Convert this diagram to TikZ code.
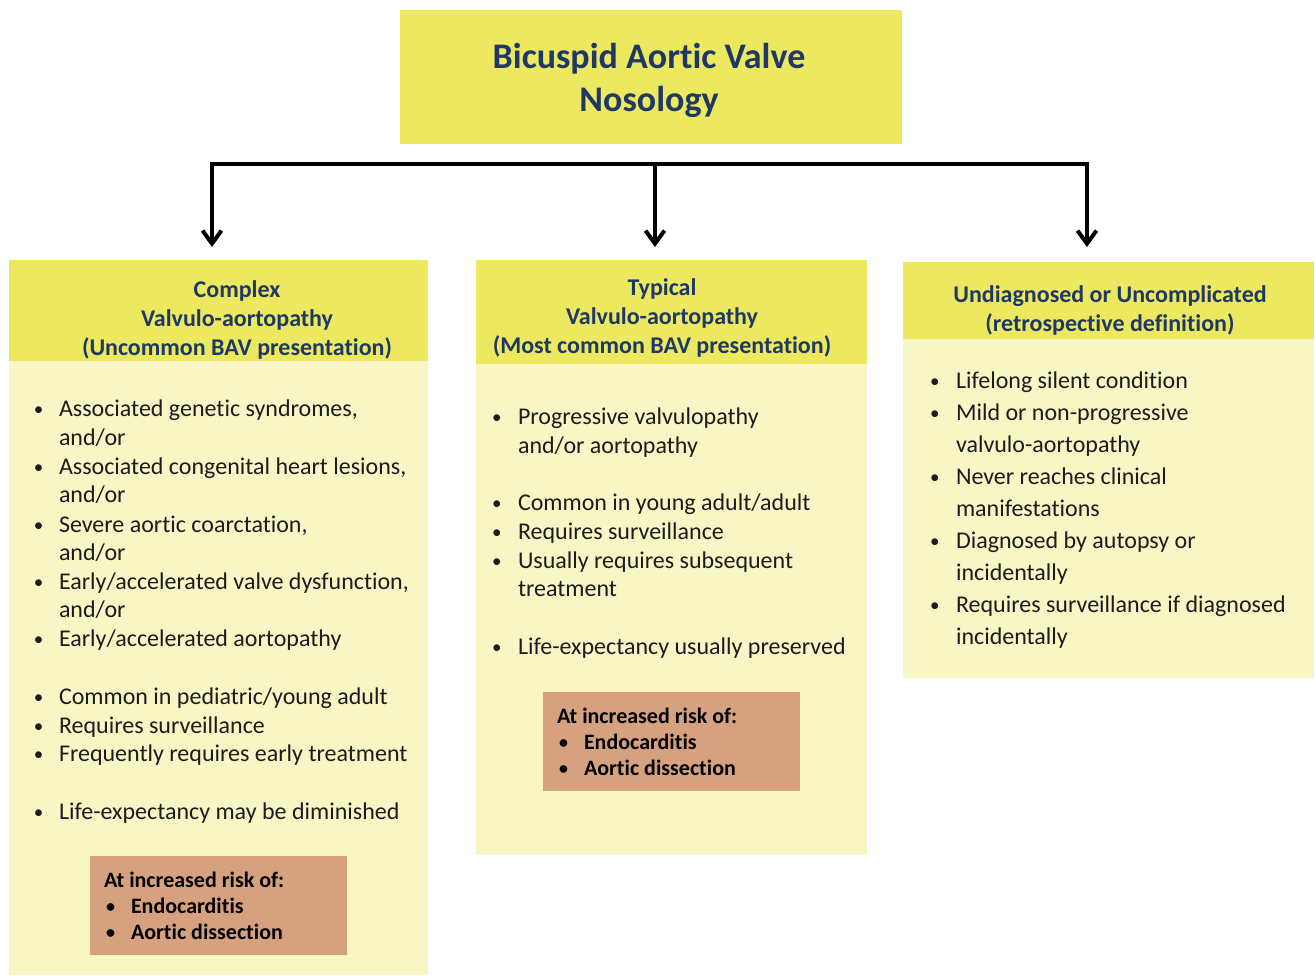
\documentclass[tikz,border=0pt]{standalone}
\usepackage{fontspec}
\setmainfont[Ligatures=NoCommon]{Carlito}
\usetikzlibrary{arrows.meta}
\definecolor{hdryellow}{HTML}{ECE961}
\definecolor{bodyyellow}{HTML}{F8F6C5}
\definecolor{riskorange}{HTML}{D6A17E}
\definecolor{navy}{HTML}{1F3864}
\definecolor{ink}{HTML}{1C1C1C}

\begin{document}
\begin{tikzpicture}[x=1pt,y=-1pt]
        \tikzstyle{every node}=[inner sep=0pt, outer sep=0pt]
        \tikzstyle{panel}=[anchor=north west, fill=hdryellow]
        \tikzstyle{body}=[anchor=north west, fill=bodyyellow]
        \tikzstyle{risk}=[anchor=north west, fill=riskorange, minimum width=257, minimum height=99]
        \tikzstyle{head}=[text=navy, align=center, font=\fontsize{24}{29}\selectfont\bfseries]
        \tikzstyle{item}=[text=ink, anchor=base west, font=\fontsize{24}{29}\selectfont]
        \tikzstyle{dot}=[text=ink, anchor=base west, font=\fontsize{19}{29}\selectfont]
        \tikzstyle{riskitem}=[text=black, anchor=base west, font=\fontsize{22}{26}\selectfont\bfseries]
        \tikzstyle{arrs}=[line width=4pt, {Straight Barb[length=13pt,width=19pt]}-{Straight Barb[length=13pt,width=19pt]}]
        \tikzstyle{arr}=[line width=4pt, -{Straight Barb[length=13pt,width=19pt]}]
        \useasboundingbox (0,0) rectangle (1315,975);
        % title
        \node[panel, minimum width=502, minimum height=134] (title) at (400,10) {};
        \node[text=navy, align=center, font=\fontsize{36}{43}\selectfont\bfseries] (titletext) at (649,80) {Bicuspid Aortic Valve\\Nosology};
        % connectors
        \coordinate (jL) at (212,164);
        \coordinate (jM) at (655,164);
        \coordinate (jR) at (1087,164);
        \coordinate (tL) at (212,247);
        \coordinate (tM) at (655,247);
        \coordinate (tR) at (1087,247);
        \draw[arrs] (tL) -- (jL) -- (jR) -- (tR);
        \draw[arr] (jM) -- (tM);
        % panels
        \node[panel, minimum width=419, minimum height=101] (hcomplex) at (9,260) {};
        \node[body, minimum width=419, minimum height=614] (bcomplex) at (9,361) {};
        \node[panel, minimum width=391, minimum height=104] (htypical) at (476,260) {};
        \node[body, minimum width=391, minimum height=491] (btypical) at (476,364) {};
        \node[panel, minimum width=411, minimum height=77] (hundiag) at (903,262) {};
        \node[body, minimum width=411, minimum height=339] (bundiag) at (903,339) {};
        \node[head] (hcomplextext) at (237,320) {Complex\\Valvulo-aortopathy\\(Uncommon BAV presentation)};
        \node[head] (htypicaltext) at (662,318) {Typical\\Valvulo-aortopathy\\(Most common BAV presentation)};
        \node[head] (hundiagtext) at (1110,310) {Undiagnosed or Uncomplicated\\(retrospective definition)};
        % complex
        \foreach \y/\t in {408/{Associated genetic syndromes,}, 437/{and/or},
                466/{Associated congenital heart lesions,}, 494/{and/or},
                524/{Severe aortic coarctation,}, 552/{and/or},
                581/{Early/accelerated valve dysfunction,}, 609/{and/or},
                638/{Early/accelerated aortopathy}, 696/{Common in pediatric/young adult},
                725/{Requires surveillance}, 753/{Frequently requires early treatment},
                811/{Life-expectancy may be diminished}}
            \node[item] (c\y) at (59,\y+8) {\t};
        \foreach \y in {408,466,524,581,638,696,725,753,811}
            \node[dot] (cb\y) at (34,\y+7) {•};
        % typical
        \foreach \y/\t in {416/{Progressive valvulopathy}, 445/{and/or aortopathy},
                502/{Common in young adult/adult}, 531/{Requires surveillance},
                560/{Usually requires subsequent}, 588/{treatment},
                646/{Life-expectancy usually preserved}}
            \node[item] (t\y) at (518,\y+8) {\t};
        \foreach \y in {416,502,531,560,646}
            \node[dot] (tb\y) at (492,\y+7) {•};
        % undiagnosed
        \foreach \y/\t in {380/{Lifelong silent condition}, 412/{Mild or non-progressive},
                444/{valvulo-aortopathy}, 476/{Never reaches clinical},
                508/{manifestations}, 540/{Diagnosed by autopsy or},
                572/{incidentally}, 604/{Requires surveillance if diagnosed},
                636/{incidentally}}
            \node[item] (u\y) at (956,\y+8) {\t};
        \foreach \y in {380,412,476,540,604}
            \node[dot] (ub\y) at (930,\y+7) {•};
        % risk boxes
        \foreach \n/\x/\y in {c/90/856, t/543/692} {
            \node[risk] (risk\n) at (\x,\y) {};
            \node[riskitem] (risk\n0) at (\x+14,\y+31) {At increased risk of:};
            \node[riskitem] (risk\n1) at (\x+41,\y+57) {Endocarditis};
            \node[riskitem] (risk\n2) at (\x+41,\y+83) {Aortic dissection};
            \node[riskitem, font=\fontsize{18}{26}\selectfont\bfseries] (risk\n1b) at (\x+16,\y+56) {•};
            \node[riskitem, font=\fontsize{18}{26}\selectfont\bfseries] (risk\n2b) at (\x+16,\y+82) {•};
        }
    \end{tikzpicture}
\end{document}
